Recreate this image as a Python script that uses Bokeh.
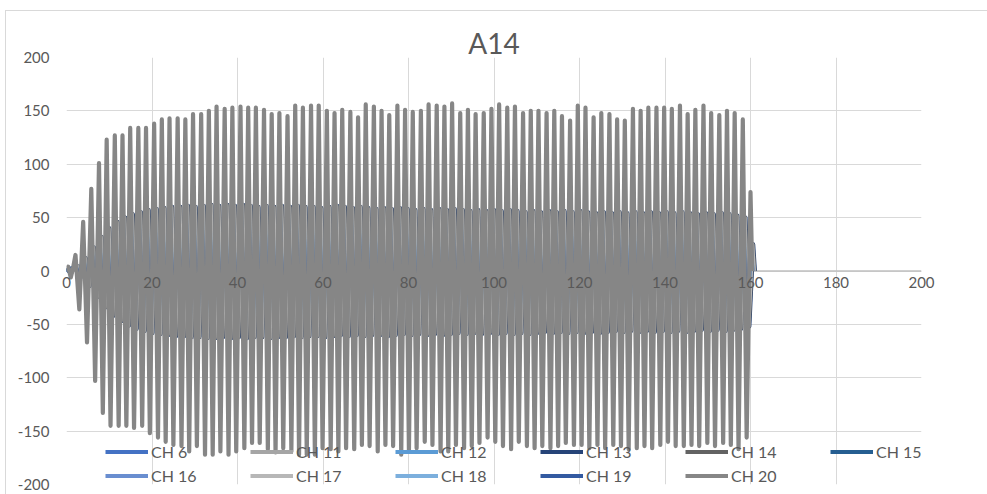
from bokeh.plotting import figure
from bokeh.models import Range1d, FixedTicker, Legend, LegendItem, Span, InlineStyleSheet
from bokeh.embed import file_html
from bokeh.resources import INLINE

TITLE = "A14"
X_TICKS = [0, 20, 40, 60, 80, 100, 120, 140, 160, 180, 200]
Y_TICKS = [-200, -150, -100, -50, 0, 50, 100, 150, 200]
Y_TICK_LABELS = ["-200", "-150", "-100", "-50", "0", "50", "100", "150", "200"]

CHANNELS = ["CH 6", "CH 11", "CH 12", "CH 13", "CH 14", "CH 15",
            "CH 16", "CH 17", "CH 18", "CH 19", "CH 20"]
COLORS = ["#4472C4", "#A5A5A5", "#5B9BD5", "#264478", "#636363", "#255E91",
          "#698ED0", "#B7B7B7", "#7CAFDD", "#335AA1", "#868686"]

# CH 20 (dominant trace): start, then alternating peaks / troughs
START_T = [0.0, 0.4, 1.0, 1.5]
START_V = [0, 4, -6, 2]

PEAK_T = [2.1, 3.9, 5.8, 7.6, 9.4, 11.3, 13.1, 14.9, 16.8, 18.6,
          20.5, 22.3, 24.1, 26.0, 27.8, 29.6, 31.5, 33.3, 35.1, 37.0,
          38.8, 40.7, 42.5, 44.3, 46.2, 48.0, 49.8, 51.7, 53.5, 55.3,
          57.2, 59.0, 60.9, 62.7, 64.5, 66.4, 68.2, 70.0, 71.9, 73.7,
          75.5, 77.4, 79.2, 81.0, 82.9, 84.7, 86.6, 88.4, 90.2, 92.1,
          93.9, 95.7, 97.6, 99.4, 101.2, 103.1, 104.9, 106.8, 108.6, 110.4,
          112.3, 114.1, 115.9, 117.8, 119.6, 121.4, 123.3, 125.1, 127.0, 128.8,
          130.6, 132.5, 134.3, 136.1, 138.0, 139.8, 141.6, 143.5, 145.3, 147.1,
          149.0, 150.8, 152.7, 154.5, 156.3, 158.2, 160.0]
PEAK_V = [15, 46, 77, 101, 123, 127, 127, 134, 134, 134,
          138, 142, 143, 143, 142, 147, 147, 150, 154, 152,
          153, 154, 153, 153, 151, 147, 148, 145, 155, 153,
          155, 155, 150, 148, 151, 149, 144, 156, 154, 150,
          146, 155, 151, 149, 150, 156, 155, 154, 157, 148,
          151, 147, 148, 152, 156, 153, 154, 148, 150, 150,
          148, 150, 145, 141, 155, 153, 144, 148, 147, 142,
          141, 152, 150, 153, 153, 153, 152, 155, 147, 151,
          155, 148, 146, 150, 148, 142, 74]
TROUGH_T = [3.0, 4.8, 6.7, 8.5, 10.3, 12.2, 14.0, 15.8, 17.7, 19.5,
            21.4, 23.2, 25.0, 26.9, 28.7, 30.5, 32.4, 34.2, 36.0, 37.9,
            39.7, 41.6, 43.4, 45.2, 47.1, 48.9, 50.7, 52.6, 54.4, 56.2,
            58.1, 59.9, 61.8, 63.6, 65.4, 67.3, 69.1, 70.9, 72.8, 74.6,
            76.4, 78.3, 80.1, 81.9, 83.8, 85.6, 87.5, 89.3, 91.1, 93.0,
            94.8, 96.6, 98.5, 100.3, 102.1, 104.0, 105.8, 107.7, 109.5, 111.3,
            113.2, 115.0, 116.8, 118.7, 120.5, 122.3, 124.2, 126.0, 127.9, 129.7,
            131.5, 133.4, 135.2, 137.0, 138.9, 140.7, 142.5, 144.4, 146.2, 148.0,
            149.9, 151.7, 153.6, 155.4, 157.2, 159.1, 160.4]
TROUGH_V = [-36, -67, -103, -133, -145, -145, -145, -147, -145, -152,
            -156, -160, -163, -164, -169, -164, -172, -172, -169, -172,
            -169, -166, -161, -161, -167, -170, -166, -169, -172, -172,
            -172, -166, -167, -169, -166, -167, -163, -164, -169, -163,
            -164, -172, -169, -166, -160, -163, -169, -169, -163, -166,
            -164, -161, -156, -160, -164, -167, -160, -164, -166, -164,
            -166, -164, -161, -163, -163, -166, -163, -166, -163, -164,
            -167, -166, -164, -166, -163, -160, -164, -164, -163, -164,
            -161, -164, -161, -163, -167, -156, 0]

# Smaller channels (CH 6 .. CH 19): shared envelope, each with its own phase lag
INNER_PEAK_V = [4, 12, 22, 32, 40, 46, 50, 53, 55, 57,
                58, 59, 60, 60, 61, 60, 61, 62, 61, 62,
                61, 62, 61, 60, 61, 60, 61, 60, 61, 60,
                60, 59, 60, 61, 60, 59, 60, 59, 58, 59,
                58, 59, 58, 57, 58, 57, 58, 57, 58, 57,
                56, 57, 56, 57, 56, 57, 56, 55, 56, 55,
                56, 55, 56, 55, 56, 55, 54, 55, 54, 55,
                54, 55, 54, 55, 54, 55, 54, 55, 54, 53,
                54, 53, 54, 53, 52, 50, 25]
INNER_TROUGH_V = [-5, -14, -24, -34, -42, -47, -51, -54, -56, -58,
                  -59, -60, -61, -61, -62, -62, -63, -63, -62, -63,
                  -62, -63, -62, -62, -63, -62, -62, -61, -62, -61,
                  -61, -62, -61, -60, -61, -60, -61, -60, -60, -61,
                  -60, -59, -60, -59, -60, -59, -60, -59, -58, -59,
                  -58, -59, -58, -59, -58, -59, -58, -59, -58, -57,
                  -58, -57, -58, -57, -58, -57, -58, -57, -56, -57,
                  -56, -57, -56, -57, -56, -57, -56, -57, -56, -55,
                  -56, -55, -56, -55, -54, -52, 0]
INNER_LAG = [0.10, 0.45, 0.05, 0.62, 0.50, 0.00, 0.15, 0.40, 0.08, 0.02]


def wave(pt, pv, tt, tv, lag=0.0, lead_t=(0.0,), lead_v=(0,)):
    xs, ys = list(lead_t), list(lead_v)
    for a, b, c, d in zip(pt, pv, tt, tv):
        xs += [a + lag, c + lag]
        ys += [b, d]
    return xs, ys


TEXT = "#595959"
GRID = "#D9D9D9"
FONT = "Lato"

p = figure(width=987, height=494, output_backend="svg", toolbar_location=None,
           x_range=Range1d(X_TICKS[0], X_TICKS[-1]), y_range=Range1d(Y_TICKS[0], Y_TICKS[-1]),
           min_border_left=66, min_border_right=66, min_border_top=57, min_border_bottom=10,
           background_fill_color="white", border_fill_color="white", outline_line_color=None)

# faint chart-area border like the spreadsheet chart
p.stylesheets = [InlineStyleSheet(css=(
    ":host::after {content: ''; position: absolute; left: 5px; top: 10px; "
    "right: -20px; bottom: -20px; border: 1px solid #D9D9D9; pointer-events: none;}"))]

p.title.text = TITLE
p.title.align = "center"
p.title.vertical_align = "bottom"
p.title.standoff = -5
p.title.text_font = FONT
p.title.text_font_size = "28px"
p.title.text_font_style = "normal"
p.title.text_color = TEXT

# horizontal axis line at y = 0, drawn beneath the data
p.add_layout(Span(location=0, dimension="width", line_color="#BFBFBF", line_width=1.5,
                  level="underlay"))

renderers = []
for i, name in enumerate(CHANNELS):
    if name == "CH 20":
        xs, ys = wave(PEAK_T, PEAK_V, TROUGH_T, TROUGH_V, 0.0, START_T, START_V)
    else:
        xs, ys = wave(PEAK_T, INNER_PEAK_V, TROUGH_T, INNER_TROUGH_V, INNER_LAG[i])
    r = p.line(xs, ys, line_color=COLORS[i], line_width=4.2, line_join="round")
    renderers.append(r)

# x axis labels sit just under the y = 0 line (Excel style); axis itself stays below
p.xaxis.ticker = FixedTicker(ticks=X_TICKS)
p.xaxis.axis_line_color = None
p.xaxis.major_tick_line_color = None
p.xaxis.minor_tick_line_color = None
p.xaxis.major_tick_out = 0
p.xaxis.major_tick_in = 0
p.xaxis.major_label_standoff = -208
p.xaxis.major_label_text_font = FONT
p.xaxis.major_label_text_font_size = "15px"
p.xaxis.major_label_text_color = TEXT

p.yaxis.ticker = FixedTicker(ticks=Y_TICKS)
p.yaxis.major_label_overrides = {t: s for t, s in zip(Y_TICKS, Y_TICK_LABELS)}
p.yaxis.axis_line_color = None
p.yaxis.major_tick_line_color = None
p.yaxis.minor_tick_line_color = None
p.yaxis.major_tick_out = 0
p.yaxis.major_tick_in = 0
p.yaxis.major_label_standoff = 17
p.yaxis.major_label_text_font = FONT
p.yaxis.major_label_text_font_size = "15px"
p.yaxis.major_label_text_color = TEXT

p.xgrid.ticker = FixedTicker(ticks=X_TICKS)
p.ygrid.ticker = FixedTicker(ticks=Y_TICKS)
p.grid.grid_line_color = GRID
p.grid.grid_line_width = 1

legend = Legend(items=[LegendItem(label=n, renderers=[r]) for n, r in zip(CHANNELS, renderers)],
                orientation="horizontal", ncols=6, location=(39, -2),
                padding=0, margin=0, spacing=3,
                glyph_width=43, glyph_height=21, label_height=21, label_width=96,
                label_standoff=3, background_fill_alpha=0, border_line_alpha=0,
                label_text_font=FONT, label_text_font_size="16px",
                label_text_color=TEXT)
p.add_layout(legend)

open("out.html", "w").write(file_html(p, INLINE))
